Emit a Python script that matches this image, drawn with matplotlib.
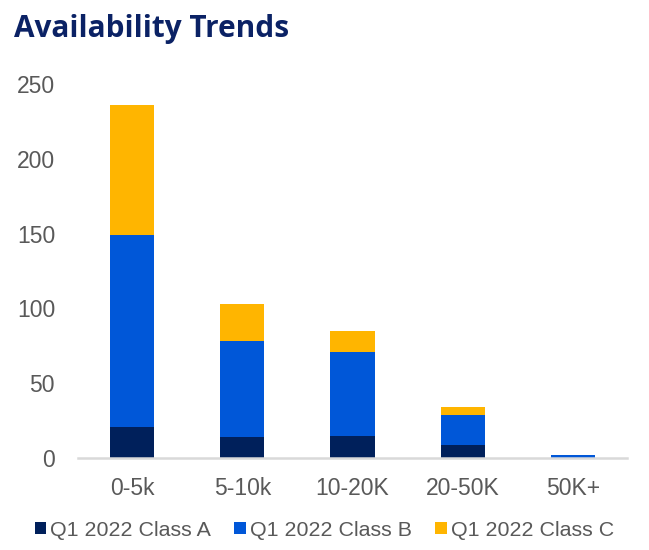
import numpy as np
import matplotlib
matplotlib.use("Agg")
import matplotlib.pyplot as plt
from matplotlib.patches import Patch

categories = ["0-5k", "5-10k", "10-20K", "20-50K", "50K+"]
class_a = [21, 14, 15, 9, 0]
class_b = [128, 64, 56, 20, 2]
class_c = [87, 25, 14, 5, 0]
series_names = ["Q1 2022 Class A", "Q1 2022 Class B", "Q1 2022 Class C"]
colors = ["#00205b", "#0057d8", "#ffb500"]
yticks = [0, 50, 100, 150, 200, 250]

plt.rcParams['font.family'] = ['Liberation Sans', 'DejaVu Sans']

fig = plt.figure(figsize=(6.49, 5.5), dpi=100)
ax = fig.add_axes([0.1202, 0.1673, 0.8459, 0.68])

x = np.arange(len(categories))
a = np.array(class_a)
b = np.array(class_b)
c = np.array(class_c)
ax.bar(x, a, width=0.4, color=colors[0], linewidth=0)
ax.bar(x, b, width=0.4, bottom=a, color=colors[1], linewidth=0)
ax.bar(x, c, width=0.4, bottom=a + b, color=colors[2], linewidth=0)

ax.set_xlim(-0.49, 4.49)
ax.set_ylim(0, 250)
ax.set_yticks(yticks)
ax.set_xticks(x)
ax.set_xticklabels(categories)
ax.tick_params(axis='both', length=0, labelsize=16.5, labelcolor='#595959')
ax.tick_params(axis='x', pad=14)
ax.tick_params(axis='y', pad=16.5)
for s in ['top', 'right', 'left']:
    ax.spines[s].set_visible(False)
ax.spines['bottom'].set_color('#d9d9d9')
ax.spines['bottom'].set_linewidth(1.8)

fig.text(0.022, 0.9327, "Availability Trends", fontsize=21.4, fontweight='bold',
         color='#0b2265', family=['Open Sans', 'DejaVu Sans'], va='baseline', ha='left')

handles = [Patch(facecolor=col, edgecolor='none') for col in colors]
fig.legend(handles, series_names, loc='center', bbox_to_anchor=(0.5, 0.036), ncol=3,
           frameon=False, fontsize=15.4, labelcolor='#595959',
           handlelength=0.52, handleheight=0.52, handletextpad=0.22, columnspacing=1.08)

fig.savefig("out.png", dpi=100)
